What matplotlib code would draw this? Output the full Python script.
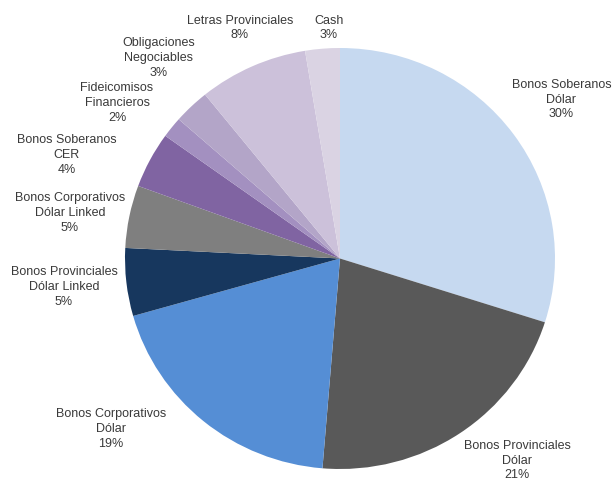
import matplotlib
matplotlib.use("Agg")
import matplotlib.pyplot as plt

categories = [
    "Bonos Soberanos\nDólar",
    "Bonos Provinciales\nDólar",
    "Bonos Corporativos\nDólar",
    "Bonos Provinciales\nDólar Linked",
    "Bonos Corporativos\nDólar Linked",
    "Bonos Soberanos\nCER",
    "Fideicomisos\nFinancieros",
    "Obligaciones\nNegociables",
    "Letras Provinciales",
    "Cash",
]
# shares in % (labels show them rounded)
shares = [29.9, 21.4, 19.3, 5.2, 4.8, 4.3, 1.6, 2.7, 8.2, 2.6]

colors = ["#C6D9F0", "#595959", "#558ED5", "#17375E", "#7F7F7F",
          "#8064A2", "#A390C0", "#B3A5C8", "#CCC1DA", "#DAD3E3"]

# label centres (axes data units, pie radius = 1)
label_pos = [(1.03, 0.76), (0.823, -0.955), (-1.065, -0.805), (-1.284, -0.131),
             (-1.256, 0.221), (-1.270, 0.496), (-1.037, 0.743), (-0.842, 0.957),
             (-0.465, 1.100), (-0.051, 1.100)]

plt.rcParams['font.family'] = ['Liberation Sans', 'DejaVu Sans']

fig = plt.figure(figsize=(6.15, 4.85), dpi=100)
ax = fig.add_axes([125 / 615, 15 / 485, 430 / 615, 421 / 485])
ax.pie(shares, colors=colors, startangle=90, counterclock=False,
       wedgeprops=dict(linewidth=0))
ax.set_aspect('auto')
ax.set_xlim(-1, 1)
ax.set_ylim(-1, 1)
ax.axis('off')

for name, val, (x, y) in zip(categories, shares, label_pos):
    ax.text(x, y, f"{name}\n{val:.0f}%", ha='center', va='center',
            fontsize=9, color='#3a3a3a', linespacing=1.3, clip_on=False)

fig.savefig("out.png", dpi=100)
